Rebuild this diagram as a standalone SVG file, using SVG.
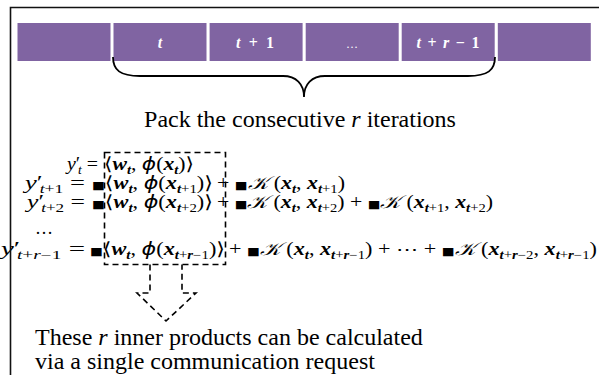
<svg xmlns="http://www.w3.org/2000/svg" width="599" height="375" viewBox="0 0 599 375">
  <style>
    .bar { fill: #8064A2; }
    .lbl { font-family: "Liberation Serif", "DejaVu Serif", serif; font-size: 16px; font-weight: bold; fill: #fff; text-anchor: middle; }
    .txt { font-family: "Liberation Serif", "Times New Roman", serif; font-size: 24px; fill: #000; }
    .m { font-family: "Liberation Serif", "DejaVu Serif", serif; font-size: 18px; fill: #000; }
    .i { font-style: italic; }
    .b { font-weight: bold; font-style: italic; }
    .s { font-size: 12px; }
    .sym { font-family: "DejaVu Sans", sans-serif; font-weight: normal; }
    .sq { font-family: "DejaVu Sans", sans-serif; font-size: 11px; }
    .k { font-style: italic; font-weight: normal; }
    .dash { fill: none; stroke: #000; stroke-width: 1.6; stroke-dasharray: 6 4; }
  </style>

  <rect width="599" height="375" fill="#fff"/>

  <!-- iteration strip -->
  <g id="strip">
    <rect class="bar" x="17.5" y="23" width="93" height="38"/>
    <rect class="bar" x="113.5" y="23" width="93" height="38"/>
    <rect class="bar" x="209.6" y="23" width="93" height="38"/>
    <rect class="bar" x="305.7" y="23" width="93" height="38"/>
    <rect class="bar" x="401.7" y="23" width="93" height="38"/>
    <rect class="bar" x="497.8" y="23" width="93" height="38"/>
    <text class="lbl" x="160" y="48"><tspan class="i">t</tspan></text>
    <text class="lbl" x="255" y="48" textLength="38"><tspan class="i">t</tspan> + 1</text>
    <text class="lbl" x="352" y="48" style="font-weight:normal;font-size:12px">…</text>
    <text class="lbl" x="448" y="48" textLength="63"><tspan class="i">t</tspan> + <tspan class="i">r</tspan> − 1</text>
  </g>

  <!-- brace over the packed iterations -->
  <g id="brace">
    <path d="M113,57 C113,70 120,76 140,76 L283,76 C296,76 304,84 304,97 C304,84 312,76 325,76 L468,76 C488,76 495,70 495,57" fill="none" stroke="#000" stroke-width="1.8"/>
    <text class="txt" x="300" y="127" text-anchor="middle">Pack the consecutive <tspan class="i">r</tspan> iterations</text>
  </g>

  <!-- update equations -->
  <g id="equations">
    <text class="m" x="67" y="170" textLength="31" lengthAdjust="spacingAndGlyphs"><tspan class="i">y</tspan>′<tspan class="s i" dx="-2" dy="3.5">t</tspan><tspan dy="-3.5"> =</tspan></text>
    <text class="m" x="104" y="170" textLength="90" lengthAdjust="spacingAndGlyphs"><tspan class="sym">⟨</tspan><tspan class="b">w</tspan><tspan class="s b" dy="3.5">t</tspan><tspan dy="-3.5">, </tspan><tspan class="i sym">ϕ</tspan>(<tspan class="b">x</tspan><tspan class="s b" dy="3.5">t</tspan><tspan dy="-3.5">)</tspan><tspan class="sym">⟩</tspan></text>

    <text class="m" x="25" y="189" textLength="60" lengthAdjust="spacingAndGlyphs"><tspan class="i">y</tspan>′<tspan class="s" dx="-2" dy="3.5"><tspan class="i">t</tspan>+1</tspan><tspan dy="-3.5"> =</tspan></text>
    <text class="m" x="92" y="189" textLength="121" lengthAdjust="spacingAndGlyphs"><tspan class="sq">■</tspan><tspan class="sym">⟨</tspan><tspan class="b">w</tspan><tspan class="s b" dy="3.5">t</tspan><tspan dy="-3.5">, </tspan><tspan class="i sym">ϕ</tspan>(<tspan class="b">x</tspan><tspan class="s" dy="3.5"><tspan class="b">t</tspan>+1</tspan><tspan dy="-3.5">)</tspan><tspan class="sym">⟩</tspan></text>
    <text class="m" x="217" y="189" textLength="128" lengthAdjust="spacingAndGlyphs">+ <tspan class="sq">■</tspan><tspan class="k">𝒦</tspan> (<tspan class="b">x</tspan><tspan class="s b" dy="3.5">t</tspan><tspan dy="-3.5">, </tspan><tspan class="b">x</tspan><tspan class="s" dy="3.5"><tspan class="b">t</tspan>+1</tspan><tspan dy="-3.5">)</tspan></text>

    <text class="m" x="27" y="208" textLength="58" lengthAdjust="spacingAndGlyphs"><tspan class="i">y</tspan>′<tspan class="s" dx="-2" dy="3.5"><tspan class="i">t</tspan>+2</tspan><tspan dy="-3.5"> =</tspan></text>
    <text class="m" x="92" y="208" textLength="121" lengthAdjust="spacingAndGlyphs"><tspan class="sq">■</tspan><tspan class="sym">⟨</tspan><tspan class="b">w</tspan><tspan class="s b" dy="3.5">t</tspan><tspan dy="-3.5">, </tspan><tspan class="i sym">ϕ</tspan>(<tspan class="b">x</tspan><tspan class="s" dy="3.5"><tspan class="b">t</tspan>+2</tspan><tspan dy="-3.5">)</tspan><tspan class="sym">⟩</tspan></text>
    <text class="m" x="217" y="208" textLength="276" lengthAdjust="spacingAndGlyphs">+ <tspan class="sq">■</tspan><tspan class="k">𝒦</tspan> (<tspan class="b">x</tspan><tspan class="s b" dy="3.5">t</tspan><tspan dy="-3.5">, </tspan><tspan class="b">x</tspan><tspan class="s" dy="3.5"><tspan class="b">t</tspan>+2</tspan><tspan dy="-3.5">) + </tspan><tspan class="sq">■</tspan><tspan class="k">𝒦</tspan> (<tspan class="b">x</tspan><tspan class="s" dy="3.5"><tspan class="b">t</tspan>+1</tspan><tspan dy="-3.5">, </tspan><tspan class="b">x</tspan><tspan class="s" dy="3.5"><tspan class="b">t</tspan>+2</tspan><tspan dy="-3.5">)</tspan></text>

    <text class="m" x="35" y="234">…</text>

    <text class="m" x="1" y="255" textLength="84" lengthAdjust="spacingAndGlyphs"><tspan class="i">y</tspan>′<tspan class="s" dx="-2" dy="3.5"><tspan class="i">t</tspan>+<tspan class="i">r</tspan>−1</tspan><tspan dy="-3.5"> =</tspan></text>
    <text class="m" x="90" y="255" textLength="135" lengthAdjust="spacingAndGlyphs"><tspan class="sq">■</tspan><tspan class="sym">⟨</tspan><tspan class="b">w</tspan><tspan class="s b" dy="3.5">t</tspan><tspan dy="-3.5">, </tspan><tspan class="i sym">ϕ</tspan>(<tspan class="b">x</tspan><tspan class="s" dy="3.5"><tspan class="b">t</tspan>+<tspan class="b">r</tspan>−1</tspan><tspan dy="-3.5">)</tspan><tspan class="sym">⟩</tspan></text>
    <text class="m" x="229" y="255" textLength="368" lengthAdjust="spacingAndGlyphs">+ <tspan class="sq">■</tspan><tspan class="k">𝒦</tspan> (<tspan class="b">x</tspan><tspan class="s b" dy="3.5">t</tspan><tspan dy="-3.5">, </tspan><tspan class="b">x</tspan><tspan class="s" dy="3.5"><tspan class="b">t</tspan>+<tspan class="b">r</tspan>−1</tspan><tspan dy="-3.5">) + ⋯ + </tspan><tspan class="sq">■</tspan><tspan class="k">𝒦</tspan> (<tspan class="b">x</tspan><tspan class="s" dy="3.5"><tspan class="b">t</tspan>+<tspan class="b">r</tspan>−2</tspan><tspan dy="-3.5">, </tspan><tspan class="b">x</tspan><tspan class="s" dy="3.5"><tspan class="b">t</tspan>+<tspan class="b">r</tspan>−1</tspan><tspan dy="-3.5">)</tspan></text>
  </g>

  <!-- dashed grouping of the inner products and the arrow below it -->
  <g id="connectors">
    <rect class="dash" x="104.5" y="152.5" width="121" height="112"/>
    <polyline class="dash" points="150,264.5 150,293 137,293 166,321 196,293 182,293 182,264.5"/>
  </g>

  <g id="note">
    <text class="txt" x="35" y="345">These <tspan class="i">r</tspan> inner products can be calculated</text>
    <text class="txt" x="35" y="369">via a single communication request</text>
  </g>

  <!-- outer frame -->
  <path d="M10.5,375 V7.5 H599" fill="none" stroke="#111" stroke-width="1.6"/>
</svg>
